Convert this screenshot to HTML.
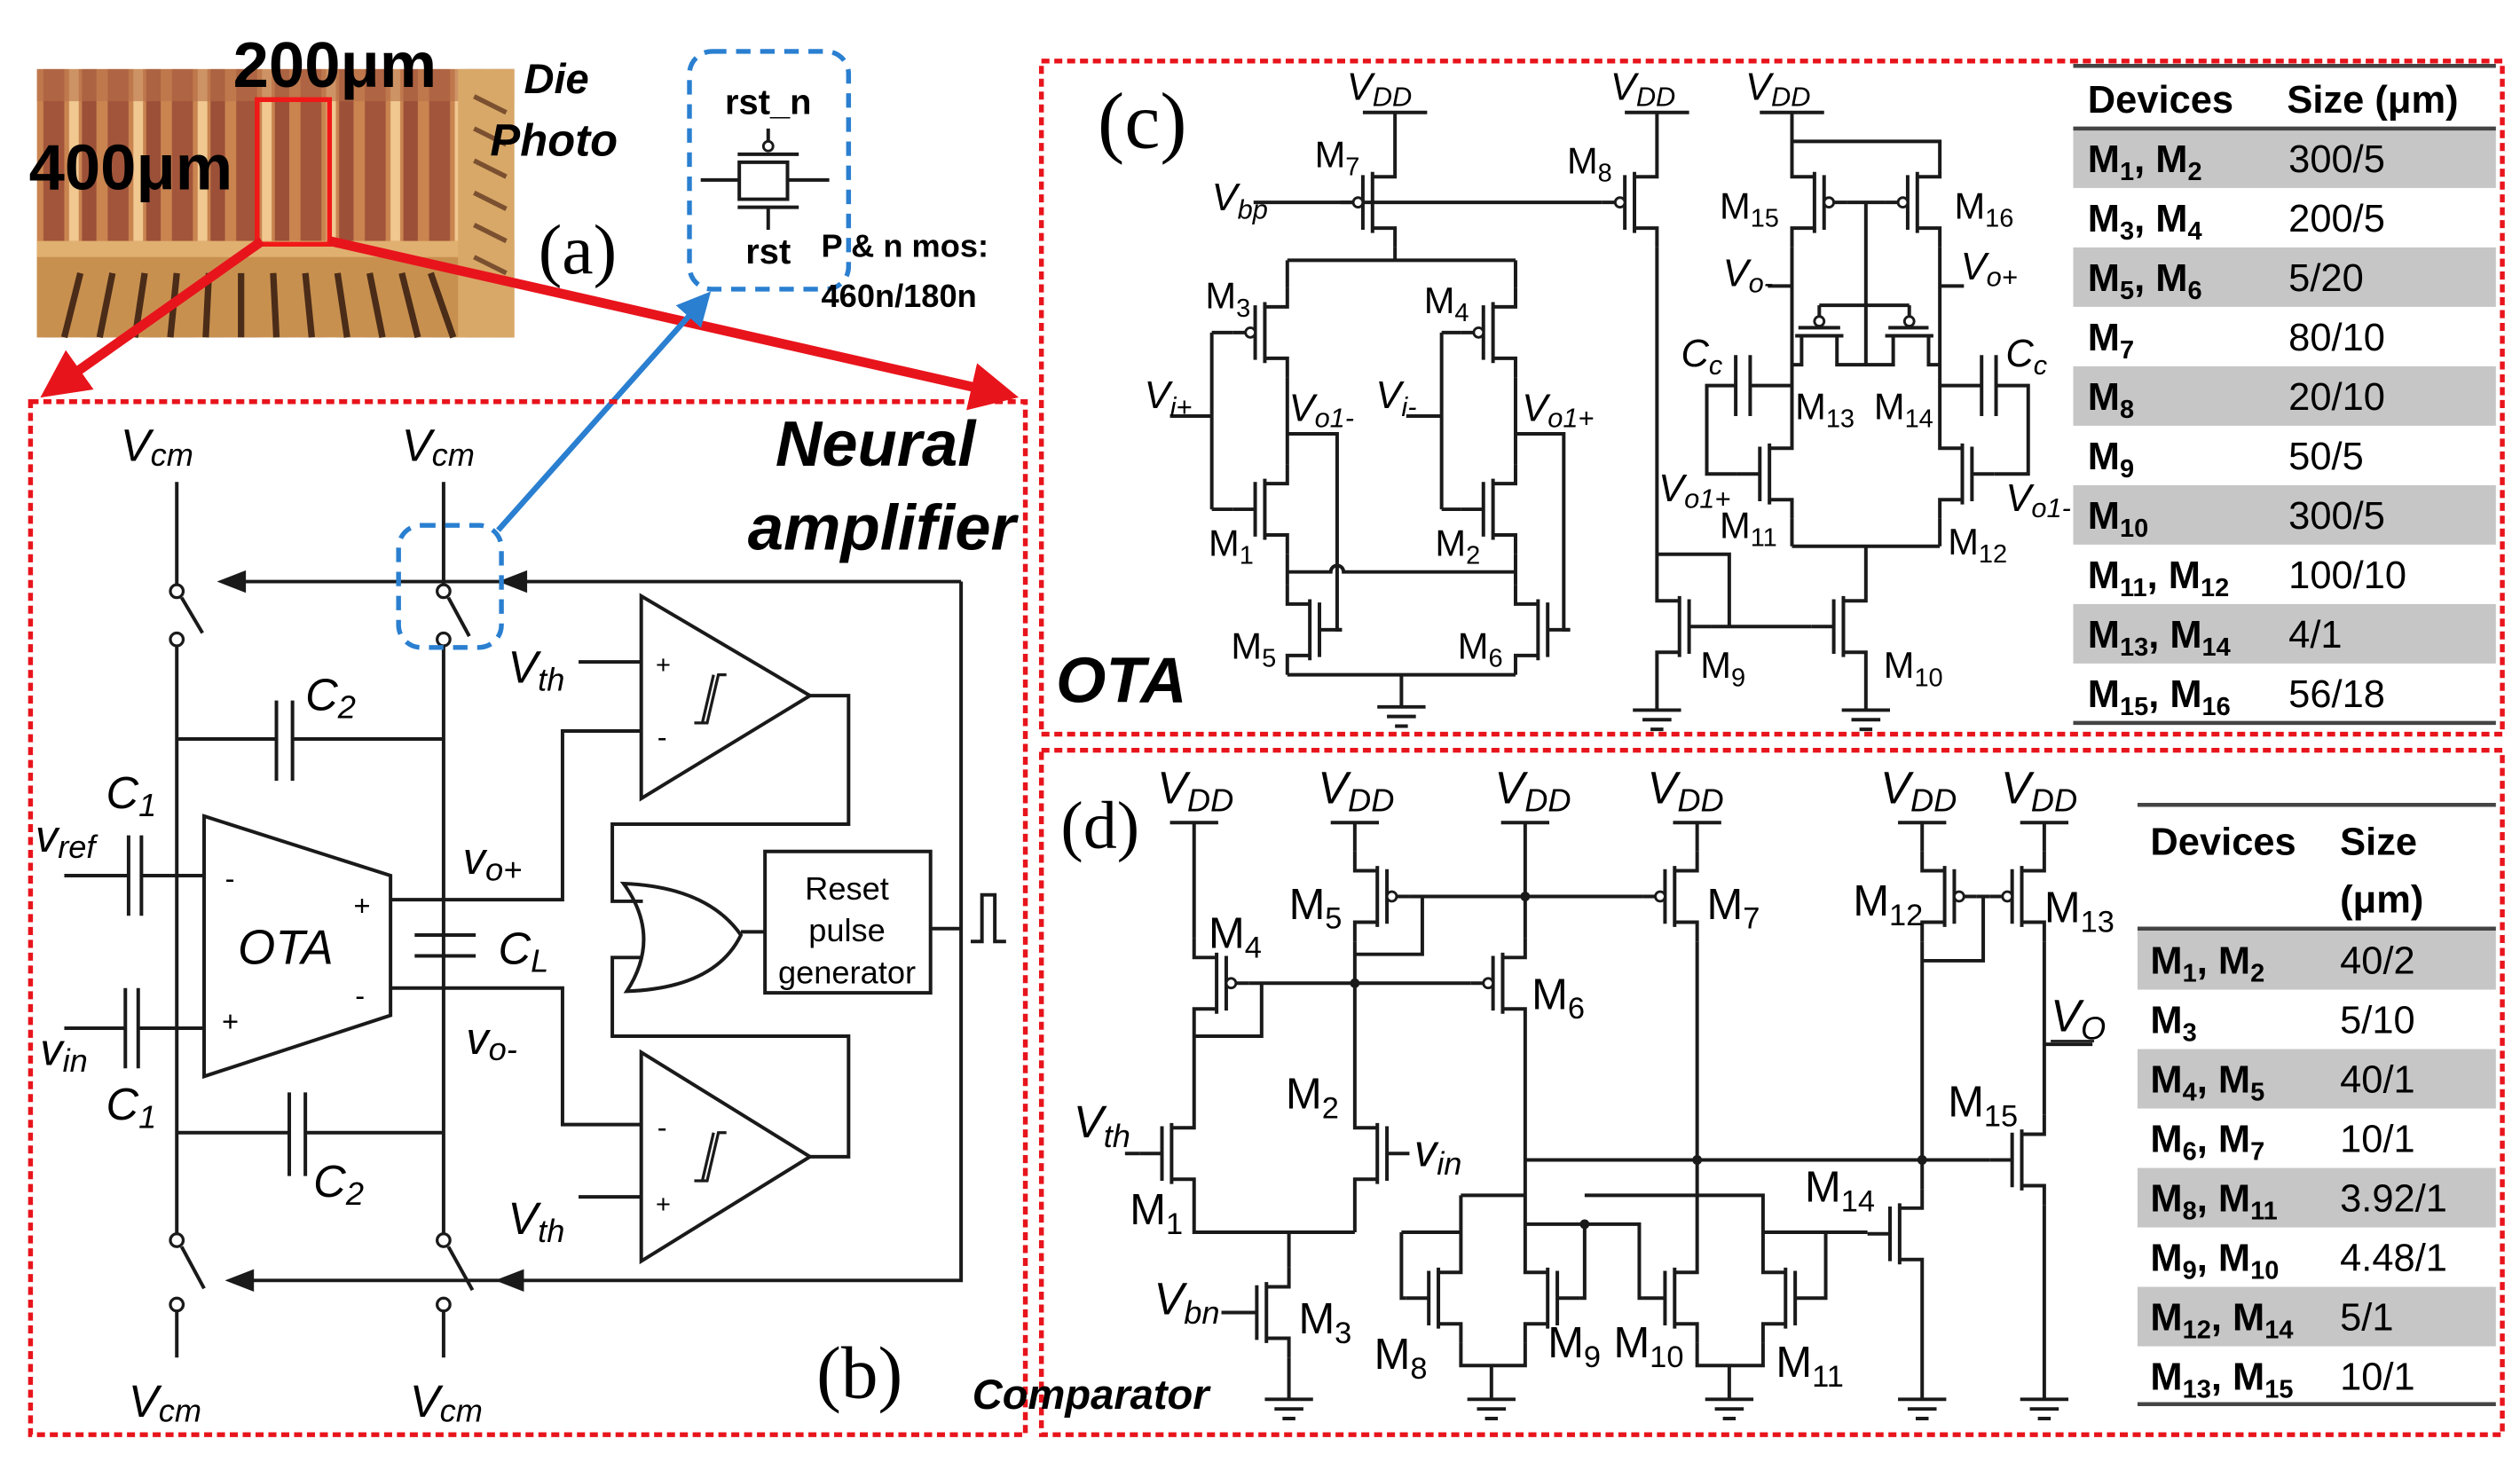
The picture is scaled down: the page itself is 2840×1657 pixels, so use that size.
<!DOCTYPE html>
<html><head><meta charset="utf-8"><style>
html,body{margin:0;padding:0;background:#fff}
svg{display:block}
text{font-family:"Liberation Sans",sans-serif;fill:#000}
.i{font-style:italic}
.w{fill:none;stroke:#1a1a1a;stroke-width:2.2}
.ser{font-family:"Liberation Serif",serif}
</style></head><body>
<svg width="2840" height="1657" viewBox="0 0 1568 915" preserveAspectRatio="none" xmlns="http://www.w3.org/2000/svg">
<defs>
<g id="n"><path d="M-20,0H-6M-6,-17V17M0,-19V19M0,-16H14V-28M0,16H14V28" fill="none" stroke="#1a1a1a" stroke-width="2.2"/></g>
<g id="p"><path d="M-20,0H-12M-6,-17V17M0,-19V19M0,-16H14V-28M0,16H14V28" fill="none" stroke="#1a1a1a" stroke-width="2.2"/><circle cx="-9" cy="0" r="3" fill="#fff" stroke="#1a1a1a" stroke-width="1.6"/></g>
<g id="gnd"><path d="M-15,0H15M-9,6H9M-4,12H4" stroke="#1a1a1a" stroke-width="2.2"/></g>
<marker id="ra" markerWidth="5" markerHeight="5" refX="4" refY="2.5" orient="auto" markerUnits="strokeWidth"><path d="M0,0L5,2.5L0,5Z" fill="#e8141c"/></marker>
<marker id="ba" markerWidth="6" markerHeight="6" refX="5" refY="3" orient="auto" markerUnits="strokeWidth"><path d="M0,0L6,3L0,6Z" fill="#2a7fd0"/></marker>
<pattern id="die" width="40" height="60" patternUnits="userSpaceOnUse" x="23" y="43">
<rect width="40" height="60" fill="#c98450"/>
<rect x="4" y="0" width="13" height="60" fill="#a2553a"/>
<rect x="20" y="0" width="6" height="60" fill="#f0c890"/>
<rect x="28" y="0" width="9" height="60" fill="#9c5038"/>
</pattern>
</defs>

<!-- die photo -->
<rect x="23" y="43" width="297" height="167" fill="url(#die)"/>
<rect x="23" y="43" width="297" height="20" fill="#b8704a" opacity="0.6"/>
<rect x="23" y="150" width="297" height="60" fill="#c8904f"/>
<rect x="23" y="150" width="297" height="10" fill="#e0b070"/>
<g stroke="#4a2c18" stroke-width="4">
<path d="M40,210L50,170M62,210L70,170M84,210L90,170M106,210L110,170M128,210L130,170M150,210L150,170M172,210L170,170M194,210L190,170M216,210L210,170M238,210L230,170M260,210L250,170M282,210L268,170"/>
</g>
<rect x="285" y="43" width="35" height="167" fill="#d8a868"/>
<g stroke="#7a5030" stroke-width="3"><path d="M295,60L315,70M295,80L315,90M295,100L315,110M295,120L315,130M295,140L315,150M295,160L315,170"/></g>
<rect x="160" y="62" width="45" height="90" fill="none" stroke="#f01818" stroke-width="3"/>
<text x="145" y="54" font-size="40" font-weight="bold">200μm</text>
<text x="18" y="118" font-size="40" font-weight="bold">400μm</text>
<text x="326" y="58" font-size="26" font-weight="bold" class="i">Die</text>
<text x="305" y="97" font-size="28" font-weight="bold" class="i">Photo</text>
<text x="335" y="170" font-size="44" class="ser">(a)</text>

<!-- rst box -->
<rect x="429" y="32" width="99" height="148" rx="14" fill="none" stroke="#2a7fd0" stroke-width="3" stroke-dasharray="9 6"/>
<text x="478" y="71" font-size="22" font-weight="bold" text-anchor="middle">rst_n</text>
<g class="w"><path d="M478,80V88M459,96H497M460,101H490V124H460ZM436,112H460M490,112H516M459,129H497M478,129V143"/></g>
<circle cx="478" cy="91" r="3" fill="#fff" stroke="#1a1a1a" stroke-width="1.6"/>
<text x="478" y="164" font-size="22" font-weight="bold" text-anchor="middle">rst</text>
<text x="511" y="160" font-size="20" font-weight="bold">P &amp; n mos:</text>
<text x="511" y="191" font-size="20" font-weight="bold">460n/180n</text>

<!-- red arrows -->
<line x1="163" y1="150" x2="30" y2="244" stroke="#e8141c" stroke-width="6" marker-end="url(#ra)"/>
<line x1="205" y1="150" x2="628" y2="246" stroke="#e8141c" stroke-width="6" marker-end="url(#ra)"/>
<line x1="310" y1="330" x2="440" y2="184" stroke="#2a7fd0" stroke-width="3.5" marker-end="url(#ba)"/>

<!-- borders -->
<g fill="none" stroke="#e8141c" stroke-width="3" stroke-dasharray="5 3">
<rect x="19" y="250" width="619" height="643"/>
<rect x="648" y="38" width="909" height="419"/>
<rect x="648" y="467" width="909" height="426"/>
</g>

<!-- (b) neural amplifier -->
<text x="607" y="290" font-size="40" font-weight="bold" class="i" text-anchor="end">Neural</text>
<text x="632" y="342" font-size="40" font-weight="bold" class="i" text-anchor="end">amplifier</text>
<text x="508" y="870" font-size="46" class="ser">(b)</text>
<text x="75" y="287" font-size="28" class="i">V<tspan font-size="20" dy="3">cm</tspan></text>
<text x="250" y="287" font-size="28" class="i">V<tspan font-size="20" dy="3">cm</tspan></text>
<text x="80" y="882" font-size="28" class="i">V<tspan font-size="20" dy="3">cm</tspan></text>
<text x="255" y="882" font-size="28" class="i">V<tspan font-size="20" dy="3">cm</tspan></text>
<g class="w">
<path d="M110,300V364M113,372L126,394M110,402V768M276,300V364M279,372L292,396M276,402V768"/>
<path d="M110,816V845M113,776L127,802M276,816V845M279,776L294,803"/>
<path d="M598,362H150M598,362V797H150"/>
<path d="M110,460H172M172,436V486M182,436V486M182,460H276"/>
<path d="M40,545H80M80,520V570M88,520V570M88,545H127"/>
<path d="M40,640H78M78,615V665M86,615V665M86,640H127"/>
<path d="M127,508L243,545V632L127,670Z"/>
<path d="M243,560H350V455H399M243,615H350V700H399"/>
<path d="M258,582H296M258,595H296"/>
<path d="M110,705H180M180,680V732M190,680V732M190,705H276"/>
<path d="M399,371V497L504,433ZM360,412H399"/>
<path d="M399,655V785L504,720ZM360,745H399"/>
<path d="M504,433H528V513H381V561H400M504,720H528V645H381V596H400"/>
<path d="M388,550Q412,583 390,617Q445,615 461,582Q440,552 388,550Z"/>
<path d="M461,580H476M476,530H579V618H476ZM579,578H598M604,586H611V557H619V586H626"/>
<path d="M432,450H440L447,420H452M437,450L444,420" stroke-width="1.8"/>
<path d="M432,735H440L447,705H452M437,735L444,705" stroke-width="1.8"/>
</g>
<g fill="#1a1a1a"><path d="M135,362L153,355V369Z M310,362L328,355V369Z M140,797L158,790V804Z M308,797L326,790V804Z"/></g>
<g fill="#fff" stroke="#1a1a1a" stroke-width="1.8">
<circle cx="110" cy="368" r="4"/><circle cx="110" cy="398" r="4"/><circle cx="276" cy="368" r="4"/><circle cx="276" cy="398" r="4"/>
<circle cx="110" cy="772" r="4"/><circle cx="110" cy="812" r="4"/><circle cx="276" cy="772" r="4"/><circle cx="276" cy="812" r="4"/>
</g>
<rect x="248" y="327" width="64" height="76" rx="14" fill="none" stroke="#2a7fd0" stroke-width="3" stroke-dasharray="9 6"/>
<text x="190" y="442" font-size="28" class="i">C<tspan font-size="20" dy="5">2</tspan></text>
<text x="195" y="745" font-size="28" class="i">C<tspan font-size="20" dy="5">2</tspan></text>
<text x="66" y="503" font-size="28" class="i">C<tspan font-size="20" dy="5">1</tspan></text>
<text x="66" y="697" font-size="28" class="i">C<tspan font-size="20" dy="5">1</tspan></text>
<text x="22" y="530" font-size="28" class="i">v<tspan font-size="20" dy="4">ref</tspan></text>
<text x="25" y="663" font-size="28" class="i">v<tspan font-size="20" dy="4">in</tspan></text>
<text x="148" y="600" font-size="30" class="i">OTA</text>
<text x="140" y="553" font-size="18">-</text><text x="220" y="570" font-size="18">+</text>
<text x="138" y="642" font-size="18">+</text><text x="221" y="626" font-size="18">-</text>
<text x="288" y="544" font-size="28" class="i">v<tspan font-size="20" dy="4">o+</tspan></text>
<text x="310" y="600" font-size="28" class="i">C<tspan font-size="20" dy="5">L</tspan></text>
<text x="290" y="656" font-size="28" class="i">v<tspan font-size="20" dy="4">o-</tspan></text>
<text x="316" y="425" font-size="28" class="i">V<tspan font-size="20" dy="5">th</tspan></text>
<text x="316" y="768" font-size="28" class="i">V<tspan font-size="20" dy="5">th</tspan></text>
<text x="408" y="419" font-size="16">+</text><text x="409" y="465" font-size="18">-</text>
<text x="409" y="708" font-size="18">-</text><text x="408" y="755" font-size="16">+</text>
<text x="527" y="560" font-size="20" text-anchor="middle">Reset</text>
<text x="527" y="586" font-size="20" text-anchor="middle">pulse</text>
<text x="527" y="612" font-size="20" text-anchor="middle">generator</text>

<!-- (c) OTA -->
<text x="683" y="92" font-size="50" class="ser">(c)</text>
<text x="657" y="437" font-size="40" font-weight="bold" class="i">OTA</text>
<g class="w">
<path d="M848,70H888M868,70V98M868,154V162M801,162H943M780,126H997"/>
<path d="M1011,70H1051M1031,70V98M1031,154V362"/>
<path d="M801,162V179M801,235V289M943,162V179M943,235V289"/>
<path d="M754,207V317M754,207H767M754,317H767M728,259H754"/>
<path d="M897,207V317M897,207H909M897,317H909M875,259H897"/>
<path d="M801,270H832V392H835M943,270H973V392H977"/>
<path d="M801,356H828A4,4 0 0 1 836,356H943M801,345V364M943,345V364"/>
<path d="M801,420H943M872,420V440"/>
<path d="M1065,390H1127M1031,345H1076V390M1161,362V340M1115,340H1207M1115,323V340M1207,323V340M1031,418V442M1161,418V442"/>
<path d="M1095,70H1135M1115,70V98M1115,88H1207V98M1149,126H1173M1161,126V227M1115,154V267M1207,154V267"/>
<path d="M1132,190H1188M1132,190V197M1188,190V197M1119,204H1145M1117,209H1147M1121,209V227H1115M1143,209V227H1178V209M1175,204H1200M1173,209H1203M1200,209V227H1207"/>
<path d="M1115,240H1089M1089,221V259M1080,221V259M1080,240H1062V295H1081"/>
<path d="M1207,240H1233M1233,221V259M1242,221V259M1242,240H1262V295H1241"/>
<path d="M1100,178H1115M1207,178H1222"/>
</g>
<g fill="#fff" stroke="#1a1a1a" stroke-width="1.6"><circle cx="1132" cy="200" r="3"/><circle cx="1188" cy="200" r="3"/></g>
<use href="#p" transform="translate(854,126)"/>
<use href="#p" transform="translate(1017,126)"/>
<use href="#p" transform="translate(787,207)"/>
<use href="#p" transform="translate(929,207)"/>
<use href="#n" transform="translate(787,317)"/>
<use href="#n" transform="translate(929,317)"/>
<use href="#n" transform="translate(815,392) scale(-1,1)"/>
<use href="#n" transform="translate(957,392) scale(-1,1)"/>
<use href="#n" transform="translate(1045,390) scale(-1,1)"/>
<use href="#n" transform="translate(1147,390)"/>
<use href="#p" transform="translate(1129,126) scale(-1,1)"/>
<use href="#p" transform="translate(1193,126)"/>
<use href="#n" transform="translate(1101,295)"/>
<use href="#n" transform="translate(1221,295) scale(-1,1)"/>
<use href="#gnd" transform="translate(872,440)"/>
<use href="#gnd" transform="translate(1031,442)"/>
<use href="#gnd" transform="translate(1161,442)"/>
<g font-size="24" class="i">
<text x="838" y="62">V<tspan font-size="17" dy="4">DD</tspan></text>
<text x="1002" y="62">V<tspan font-size="17" dy="4">DD</tspan></text>
<text x="1086" y="62">V<tspan font-size="17" dy="4">DD</tspan></text>
<text x="754" y="131">V<tspan font-size="17" dy="5">bp</tspan></text>
<text x="712" y="254">V<tspan font-size="17" dy="5">i+</tspan></text>
<text x="856" y="254">V<tspan font-size="17" dy="5">i-</tspan></text>
<text x="802" y="262">V<tspan font-size="17" dy="4">o1-</tspan></text>
<text x="947" y="262">V<tspan font-size="17" dy="4">o1+</tspan></text>
<text x="1072" y="178">V<tspan font-size="17" dy="4">o-</tspan></text>
<text x="1220" y="174">V<tspan font-size="17" dy="4">o+</tspan></text>
<text x="1046" y="228">C<tspan font-size="17" dy="5">c</tspan></text>
<text x="1248" y="228">C<tspan font-size="17" dy="5">c</tspan></text>
<text x="1032" y="312">V<tspan font-size="17" dy="4">o1+</tspan></text>
<text x="1248" y="318">V<tspan font-size="17" dy="4">o1-</tspan></text>
</g>
<g font-size="23">
<text x="818" y="104">M<tspan font-size="16" dy="5">7</tspan></text>
<text x="975" y="108">M<tspan font-size="16" dy="5">8</tspan></text>
<text x="750" y="192">M<tspan font-size="16" dy="5">3</tspan></text>
<text x="886" y="195">M<tspan font-size="16" dy="5">4</tspan></text>
<text x="752" y="346">M<tspan font-size="16" dy="5">1</tspan></text>
<text x="893" y="346">M<tspan font-size="16" dy="5">2</tspan></text>
<text x="766" y="410">M<tspan font-size="16" dy="5">5</tspan></text>
<text x="907" y="410">M<tspan font-size="16" dy="5">6</tspan></text>
<text x="1058" y="422">M<tspan font-size="16" dy="5">9</tspan></text>
<text x="1172" y="422">M<tspan font-size="16" dy="5">10</tspan></text>
<text x="1070" y="136">M<tspan font-size="16" dy="5">15</tspan></text>
<text x="1216" y="136">M<tspan font-size="16" dy="5">16</tspan></text>
<text x="1117" y="261">M<tspan font-size="16" dy="5">13</tspan></text>
<text x="1166" y="261">M<tspan font-size="16" dy="5">14</tspan></text>
<text x="1070" y="335">M<tspan font-size="16" dy="5">11</tspan></text>
<text x="1212" y="345">M<tspan font-size="16" dy="5">12</tspan></text>
</g>

<!-- table c -->
<g fill="#c6c6c6">
<rect x="1290" y="80" width="263" height="37"/><rect x="1290" y="154" width="263" height="37"/><rect x="1290" y="228" width="263" height="37"/><rect x="1290" y="302" width="263" height="37"/><rect x="1290" y="376" width="263" height="37"/>
</g>
<g stroke="#444" stroke-width="2.5"><path d="M1290,41H1553M1290,80H1553M1290,450H1553"/></g>
<g font-size="24">
<text x="1299" y="70" font-weight="bold">Devices</text><text x="1423" y="70" font-weight="bold">Size (μm)</text>
<g font-weight="bold">
<text x="1299" y="107">M<tspan font-size="16" dy="5">1</tspan><tspan dy="-5">, M</tspan><tspan font-size="16" dy="5">2</tspan></text>
<text x="1299" y="144">M<tspan font-size="16" dy="5">3</tspan><tspan dy="-5">, M</tspan><tspan font-size="16" dy="5">4</tspan></text>
<text x="1299" y="181">M<tspan font-size="16" dy="5">5</tspan><tspan dy="-5">, M</tspan><tspan font-size="16" dy="5">6</tspan></text>
<text x="1299" y="218">M<tspan font-size="16" dy="5">7</tspan></text>
<text x="1299" y="255">M<tspan font-size="16" dy="5">8</tspan></text>
<text x="1299" y="292">M<tspan font-size="16" dy="5">9</tspan></text>
<text x="1299" y="329">M<tspan font-size="16" dy="5">10</tspan></text>
<text x="1299" y="366">M<tspan font-size="16" dy="5">11</tspan><tspan dy="-5">, M</tspan><tspan font-size="16" dy="5">12</tspan></text>
<text x="1299" y="403">M<tspan font-size="16" dy="5">13</tspan><tspan dy="-5">, M</tspan><tspan font-size="16" dy="5">14</tspan></text>
<text x="1299" y="440">M<tspan font-size="16" dy="5">15</tspan><tspan dy="-5">, M</tspan><tspan font-size="16" dy="5">16</tspan></text>
</g>
<text x="1424" y="107">300/5</text><text x="1424" y="144">200/5</text><text x="1424" y="181">5/20</text><text x="1424" y="218">80/10</text><text x="1424" y="255">20/10</text><text x="1424" y="292">50/5</text><text x="1424" y="329">300/5</text><text x="1424" y="366">100/10</text><text x="1424" y="403">4/1</text><text x="1424" y="440">56/18</text>
</g>

<!-- (d) comparator -->
<text x="660" y="528" font-size="42" class="ser">(d)</text>
<text x="605" y="877" font-size="26" font-weight="bold" class="i">Comparator</text>
<g class="w">
<path d="M728,512H758M828,512H858M934,512H964M1041,512H1071M1181,512H1211M1257,512H1287"/>
<path d="M743,512V584M785,612V645H743M743,640V690M777,612H915"/>
<path d="M843,512V530M877,558H1022M885,558V594H843M843,586V690"/>
<path d="M700,718H709M743,746V767H843M843,746V767M802,767V789M802,845V871M760,817H768"/>
<path d="M949,512V584M949,640V780M1056,512V530M1056,586V780"/>
<path d="M983,808H986V762M949,762H1020V808H1022"/>
<path d="M872,767V808H875M872,767H909M909,744V780M909,744H949"/>
<path d="M986,744H1097V780M1131,808H1136V767M1097,767H1162"/>
<path d="M909,836V850H949V836M928,850V871M1056,836V850H1097V836M1076,850V871"/>
<path d="M1196,512V530M1230,558H1238M1234,558V598H1196M1196,586V740M1196,796V871"/>
<path d="M1272,512V530M1272,586V694M1272,750V871M949,722H1238M1272,650H1302"/>
</g>
<g fill="#1a1a1a"><circle cx="843" cy="612" r="3"/><circle cx="949" cy="558" r="3"/><circle cx="1056" cy="722" r="3"/><circle cx="1196" cy="722" r="3"/><circle cx="986" cy="762" r="3"/></g>
<use href="#p" transform="translate(757,612) scale(-1,1)"/>
<use href="#p" transform="translate(857,558) scale(-1,1)"/>
<use href="#p" transform="translate(935,612)"/>
<use href="#p" transform="translate(1042,558)"/>
<use href="#p" transform="translate(1210,558) scale(-1,1)"/>
<use href="#p" transform="translate(1258,558)"/>
<use href="#n" transform="translate(729,718)"/>
<use href="#n" transform="translate(857,718) scale(-1,1)"/>
<use href="#n" transform="translate(788,817)"/>
<use href="#n" transform="translate(895,808)"/>
<use href="#n" transform="translate(963,808) scale(-1,1)"/>
<use href="#n" transform="translate(1042,808)"/>
<use href="#n" transform="translate(1111,808) scale(-1,1)"/>
<use href="#n" transform="translate(1182,768)"/>
<use href="#n" transform="translate(1258,722)"/>
<use href="#gnd" transform="translate(802,871)"/>
<use href="#gnd" transform="translate(928,871)"/>
<use href="#gnd" transform="translate(1076,871)"/>
<use href="#gnd" transform="translate(1196,871)"/>
<use href="#gnd" transform="translate(1272,871)"/>
<g font-size="28" class="i">
<text x="720" y="500">V<tspan font-size="20" dy="5">DD</tspan></text>
<text x="820" y="500">V<tspan font-size="20" dy="5">DD</tspan></text>
<text x="930" y="500">V<tspan font-size="20" dy="5">DD</tspan></text>
<text x="1025" y="500">V<tspan font-size="20" dy="5">DD</tspan></text>
<text x="1170" y="500">V<tspan font-size="20" dy="5">DD</tspan></text>
<text x="1245" y="500">V<tspan font-size="20" dy="5">DD</tspan></text>
<text x="668" y="708">V<tspan font-size="20" dy="6">th</tspan></text>
<text x="880" y="726">v<tspan font-size="20" dy="5">in</tspan></text>
<text x="718" y="818">V<tspan font-size="20" dy="6">bn</tspan></text>
<text x="1276" y="642">V<tspan font-size="20" dy="5">O</tspan></text>
</g>
<path d="M1276,648H1303" stroke="#1a1a1a" stroke-width="1.5"/>
<g font-size="27">
<text x="752" y="590">M<tspan font-size="19" dy="6">4</tspan></text>
<text x="802" y="572">M<tspan font-size="19" dy="6">5</tspan></text>
<text x="953" y="628">M<tspan font-size="19" dy="6">6</tspan></text>
<text x="1062" y="572">M<tspan font-size="19" dy="6">7</tspan></text>
<text x="800" y="690">M<tspan font-size="19" dy="6">2</tspan></text>
<text x="703" y="762">M<tspan font-size="19" dy="6">1</tspan></text>
<text x="808" y="830">M<tspan font-size="19" dy="6">3</tspan></text>
<text x="855" y="852">M<tspan font-size="19" dy="6">8</tspan></text>
<text x="963" y="845">M<tspan font-size="19" dy="6">9</tspan></text>
<text x="1004" y="845">M<tspan font-size="19" dy="6">10</tspan></text>
<text x="1105" y="857">M<tspan font-size="19" dy="6">11</tspan></text>
<text x="1123" y="748">M<tspan font-size="19" dy="6">14</tspan></text>
<text x="1212" y="695">M<tspan font-size="19" dy="6">15</tspan></text>
<text x="1153" y="570">M<tspan font-size="19" dy="6">12</tspan></text>
<text x="1272" y="574">M<tspan font-size="19" dy="6">13</tspan></text>
</g>

<!-- table d -->
<g fill="#c6c6c6">
<rect x="1330" y="579" width="223" height="37"/><rect x="1330" y="653" width="223" height="37"/><rect x="1330" y="727" width="223" height="37"/><rect x="1330" y="801" width="223" height="37"/>
</g>
<g stroke="#444" stroke-width="2.5"><path d="M1330,501H1553M1330,578H1553M1330,874H1553"/></g>
<g font-size="24">
<text x="1338" y="532" font-weight="bold">Devices</text><text x="1456" y="532" font-weight="bold">Size</text><text x="1456" y="568" font-weight="bold">(μm)</text>
<g font-weight="bold">
<text x="1338" y="606">M<tspan font-size="16" dy="5">1</tspan><tspan dy="-5">, M</tspan><tspan font-size="16" dy="5">2</tspan></text>
<text x="1338" y="643">M<tspan font-size="16" dy="5">3</tspan></text>
<text x="1338" y="680">M<tspan font-size="16" dy="5">4</tspan><tspan dy="-5">, M</tspan><tspan font-size="16" dy="5">5</tspan></text>
<text x="1338" y="717">M<tspan font-size="16" dy="5">6</tspan><tspan dy="-5">, M</tspan><tspan font-size="16" dy="5">7</tspan></text>
<text x="1338" y="754">M<tspan font-size="16" dy="5">8</tspan><tspan dy="-5">, M</tspan><tspan font-size="16" dy="5">11</tspan></text>
<text x="1338" y="791">M<tspan font-size="16" dy="5">9</tspan><tspan dy="-5">, M</tspan><tspan font-size="16" dy="5">10</tspan></text>
<text x="1338" y="828">M<tspan font-size="16" dy="5">12</tspan><tspan dy="-5">, M</tspan><tspan font-size="16" dy="5">14</tspan></text>
<text x="1338" y="865">M<tspan font-size="16" dy="5">13</tspan><tspan dy="-5">, M</tspan><tspan font-size="16" dy="5">15</tspan></text>
</g>
<text x="1456" y="606">40/2</text><text x="1456" y="643">5/10</text><text x="1456" y="680">40/1</text><text x="1456" y="717">10/1</text><text x="1456" y="754">3.92/1</text><text x="1456" y="791">4.48/1</text><text x="1456" y="828">5/1</text><text x="1456" y="865">10/1</text>
</g>
</svg>
</body></html>
